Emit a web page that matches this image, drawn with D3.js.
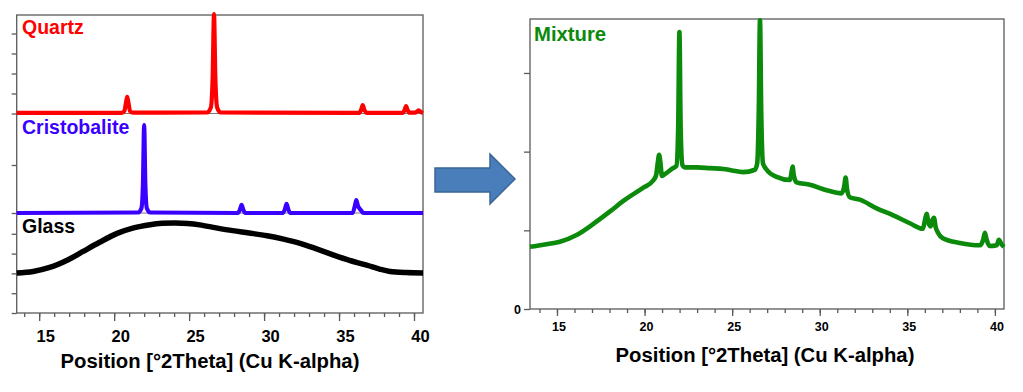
<!DOCTYPE html>
<html><head><meta charset="utf-8">
<script src="https://cdn.jsdelivr.net/npm/d3@7"></script>
<style>
body{margin:0;background:#fff;}
text{font-family:"Liberation Sans",Arial,Helvetica,sans-serif;font-weight:bold;}
</style>
</head><body>
<svg id="chart" width="1023" height="392"></svg>
<script>
// ---------------- DATA ----------------
const xTickLabels = [15, 20, 25, 30, 35, 40];
const xMinorTicks = [14,15,16,17,18,19,20,21,22,23,24,25,26,27,28,29,30,31,32,33,34,35,36,37,38,39,40];
const axisTitle = "Position [°2Theta] (Cu K-alpha)";

const panelNames = ["Quartz", "Cristobalite", "Glass"];
const mixtureName = "Mixture";

// [°2Theta, intensity (arbitrary units)]
const quartz = [
  [13.5,0.03],[20.5,0.03],[20.68,0.12],[20.79,0.55],[20.87,0.83],[20.95,0.55],[21.06,0.12],[21.25,0.04],
  [26.2,0.05],[26.45,0.3],[26.57,1.8],[26.66,4.97],[26.75,1.8],[26.87,0.3],[27.1,0.05],
  [36.35,0.03],[36.48,0.2],[36.58,0.42],[36.68,0.2],[36.85,0.03],
  [39.25,0.03],[39.38,0.2],[39.47,0.37],[39.56,0.2],[39.7,0.04],
  [40.08,0.04],[40.2,0.1],[40.32,0.16],[40.45,0.08],[40.6,0.03]
];
const cristobalite = [
  [13.5,0],[21.6,0.01],[21.82,0.1],[21.92,0.6],[22.0,1.83],[22.08,0.6],[22.18,0.1],[22.4,0.01],
  [28.25,0],[28.4,0.08],[28.5,0.17],[28.6,0.08],[28.75,0],
  [31.25,0],[31.4,0.09],[31.5,0.19],[31.6,0.09],[31.75,0],
  [35.9,0],[36.05,0.14],[36.15,0.27],[36.27,0.14],[36.38,0.09],[36.48,0.05],[36.62,0],[40.6,0]
];
const glass = [
  [13.5,2.02],[14.6,2.1],[15.7,2.3],[16.9,2.68],[17.9,3.1],[19.0,3.56],[20.2,4.02],[21.3,4.3],
  [22.4,4.46],[23.2,4.53],[24.1,4.55],[24.9,4.52],[25.7,4.45],[26.8,4.3],[27.9,4.16],[29.0,4.04],
  [30.2,3.9],[31.3,3.73],[32.4,3.52],[33.5,3.24],[34.6,2.94],[35.7,2.66],[36.9,2.4],[37.7,2.22],
  [38.4,2.1],[39.5,2.04],[40.6,2.02]
];
const mixture = [
  [13.46,0.79],[14.3,0.82],[15.17,0.855],[16.12,0.94],[17.0,1.07],[18.03,1.24],[18.77,1.37],[19.91,1.54],
  [20.48,1.63],[20.66,1.70],[20.75,1.85],[20.83,1.96],[20.91,1.85],[20.99,1.69],[21.2,1.72],[21.62,1.79],
  [21.82,1.82],[21.92,2.3],[21.99,3.52],[22.06,2.3],[22.16,1.83],[22.3,1.8],[23.0,1.80],[23.73,1.79],
  [24.5,1.78],[25.0,1.76],[25.62,1.74],[26.3,1.77],[26.43,1.85],[26.52,2.5],[26.59,3.67],[26.66,2.5],
  [26.76,1.85],[26.97,1.77],[27.54,1.68],[28.3,1.64],[28.38,1.72],[28.45,1.81],[28.52,1.70],[28.68,1.61],
  [29.44,1.58],[30.39,1.51],[31.25,1.47],[31.4,1.56],[31.48,1.67],[31.56,1.52],[31.72,1.42],[32.29,1.39],
  [33.25,1.28],[34.2,1.19],[35.15,1.09],[35.89,1.02],[36.0,1.12],[36.1,1.21],[36.2,1.10],[36.33,1.05],
  [36.43,1.13],[36.52,1.16],[36.62,1.04],[36.75,0.97],[37.03,0.90],[38.0,0.84],[39.14,0.81],[39.33,0.88],
  [39.43,0.97],[39.53,0.88],[39.71,0.80],[40.1,0.81],[40.23,0.88],[40.36,0.83],[40.52,0.79]
];

const quartzYTicks = [0,1,2,3,4];
const cristYTicks = [0,1];
const glassYTicks = [0,1,2,3,4];
const mixYTicks = [0,1,2,3];
const mixYLabels = ["0","","",""];

// ---------------- DRAW ----------------
const svg = d3.select("#chart");
const axisColor = "#5a5a5a";

function styleAxis(g){
  g.select(".domain").remove();
  g.selectAll(".tick line").attr("stroke", axisColor).attr("stroke-width", 1.3);
}

// ---- Left chart ----
const Lx = d3.scaleLinear().domain([13.5, 40.6]).range([16.7, 423]);
const yQ = d3.scaleLinear().domain([0, 4.925]).range([113.5, 15]);
const yC = d3.scaleLinear().domain([0, 2.073]).range([213, 113.5]);
const yG = d3.scaleLinear().domain([0, 5.05]).range([313, 213]);

const left = svg.append("g");

left.append("g").attr("transform","translate(0,313)")
  .call(d3.axisBottom(Lx).tickValues(xMinorTicks).tickSize(4).tickFormat(""))
  .call(styleAxis);
const lxMajor = left.append("g").attr("transform","translate(0,313)")
  .call(d3.axisBottom(Lx).tickValues(xTickLabels).tickSize(8).tickFormat(d3.format("d")))
  .call(styleAxis);
lxMajor.selectAll(".tick text").attr("font-size", 16.5).attr("fill","#000")
  .attr("font-family","'Liberation Sans',Arial,sans-serif").attr("font-weight","bold")
  .attr("dx", 6).attr("dy", 0).attr("y", 0).attr("transform","translate(0,28.7)");

[[yQ, quartzYTicks],[yC, cristYTicks],[yG, glassYTicks]].forEach(([s, t]) => {
  left.append("g").attr("transform","translate(16.7,0)")
    .call(d3.axisLeft(s).tickValues(t).tickSize(5).tickFormat(""))
    .call(styleAxis);
});

left.append("line").attr("x1",Lx.range()[0]).attr("x2",Lx.range()[1]).attr("y1",yQ(0)).attr("y2",yQ(0))
  .attr("stroke","#777").attr("stroke-width",1.2);
left.append("line").attr("x1",Lx.range()[0]).attr("x2",Lx.range()[1]).attr("y1",yC(0)).attr("y2",yC(0))
  .attr("stroke","#777").attr("stroke-width",1.2);

left.append("rect").attr("x",16.7).attr("y",15).attr("width",423-16.7).attr("height",313-15)
  .attr("fill","none").attr("stroke",axisColor).attr("stroke-width",1.3);

function lineFor(xs, ys, curve){
  return d3.line().x(d => xs(d[0])).y(d => ys(d[1])).curve(curve || d3.curveMonotoneX);
}

left.append("path").datum(glass).attr("d", lineFor(Lx, yG, d3.curveCatmullRom.alpha(0.5)))
  .attr("fill","none").attr("stroke","#000").attr("stroke-width",5.5).attr("stroke-linejoin","round");
left.append("path").datum(cristobalite).attr("d", lineFor(Lx, yC))
  .attr("fill","none").attr("stroke","#3a00ff").attr("stroke-width",4.2).attr("stroke-linejoin","round");
left.append("path").datum(quartz).attr("d", lineFor(Lx, yQ))
  .attr("fill","none").attr("stroke","#ff0000").attr("stroke-width",4.2).attr("stroke-linejoin","round");

const labelColors = ["#ff0000","#3a00ff","#000000"];
const labelY = [33.5, 134, 233];
panelNames.forEach((n,i) => {
  left.append("text").attr("x",22).attr("y",labelY[i]).attr("font-size",19.5)
    .attr("fill",labelColors[i]).text(n);
});

left.append("text").attr("x",210).attr("y",368).attr("text-anchor","middle")
  .attr("font-size",20.3).attr("fill","#000").text(axisTitle);

// ---- Arrow ----
svg.append("polygon")
  .attr("points","435,168 490,168 490,154 515,179 490,204 490,192 435,192")
  .attr("fill","#4a7ebb").attr("stroke","#3a6496").attr("stroke-width",1.5);

// ---- Right chart ----
const Rx = d3.scaleLinear().domain([13.46, 40.52]).range([530, 1004]);
const Ry = d3.scaleLinear().domain([0, 3.686]).range([309, 19]);
const right = svg.append("g");

right.append("g").attr("transform","translate(0,309)")
  .call(d3.axisBottom(Rx).tickValues(xMinorTicks).tickSize(4).tickFormat(""))
  .call(styleAxis);
const rxMajor = right.append("g").attr("transform","translate(0,309)")
  .call(d3.axisBottom(Rx).tickValues(xTickLabels).tickSize(7).tickFormat(d3.format("d")))
  .call(styleAxis);
rxMajor.selectAll(".tick text").attr("font-size", 12.5).attr("fill","#000")
  .attr("font-family","'Liberation Sans',Arial,sans-serif").attr("font-weight","bold")
  .attr("dx", 1.5).attr("dy", 0).attr("y", 0).attr("transform","translate(0,21.7)");

const ryAxis = right.append("g").attr("transform","translate(530,0)")
  .call(d3.axisLeft(Ry).tickValues(mixYTicks).tickSize(6).tickPadding(3).tickFormat((d,i) => mixYLabels[i]))
  .call(styleAxis);
ryAxis.selectAll(".tick text").attr("font-size", 12.5).attr("fill","#000")
  .attr("font-family","'Liberation Sans',Arial,sans-serif").attr("font-weight","bold");

right.append("rect").attr("x",530).attr("y",19).attr("width",1004-530).attr("height",309-19)
  .attr("fill","none").attr("stroke",axisColor).attr("stroke-width",1.3);

right.append("path").datum(mixture).attr("d", lineFor(Rx, Ry))
  .attr("fill","none").attr("stroke","#0b8a0b").attr("stroke-width",4.6).attr("stroke-linejoin","round");

right.append("text").attr("x",534).attr("y",40.7).attr("font-size",20.3)
  .attr("fill","#0b8a0b").text(mixtureName);

right.append("text").attr("x",765).attr("y",362).attr("text-anchor","middle")
  .attr("font-size",20.3).attr("fill","#000").text(axisTitle);
</script>
</body></html>
